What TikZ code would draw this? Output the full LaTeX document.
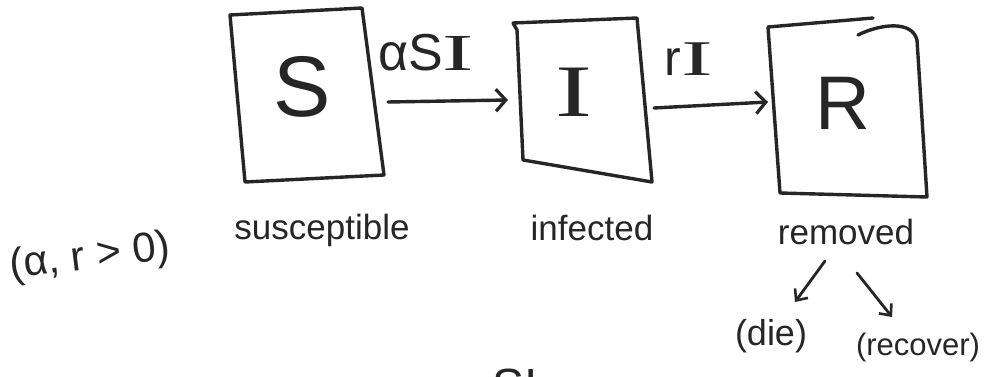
\documentclass[tikz,border=0pt]{standalone}
\usepackage{fontspec}
\setmainfont{Liberation Sans}
\newfontfamily\barfont{Liberation Serif}
\usetikzlibrary{arrows.meta}
\definecolor{ink}{HTML}{262626}
% a wide capital I with cross bars
\newcommand{\barI}[1]{{\barfont\scalebox{#1}[1]{I}}}
\tikzset{
  pen/.style={draw=ink, line width=3.4pt, line join=round, line cap=round},
  flow/.style={pen, -{Straight Barb[length=10pt,width=22pt,line width=3.2pt]}},
  small flow/.style={pen, line width=2.8pt, -{Straight Barb[length=9pt,width=16pt,line width=2.6pt]}},
  letter/.style={inner sep=0pt, text=ink},
  caption/.style={inner sep=0pt, text=ink, font=\fontsize{35}{38}\selectfont},
  note/.style={inner sep=0pt, text=ink, font=\fontsize{33}{36}\selectfont}
}
\begin{document}
\begin{tikzpicture}[x=1pt, y=-1pt]
\useasboundingbox[fill=white] (0,0) rectangle (984,377);

% compartment boxes, drawn as slightly uneven quadrilaterals
\draw[pen] (230,15) -- (362,8) -- (384,175) -- (245,182) -- cycle;
\draw[pen] (517,30) -- (513,23) -- (637,18) -- (652,182) -- (523,160) -- cycle;
\draw[pen] (873,18) -- (768,27) -- (780,193) -- (927,197) -- (917,40);
\draw[pen] (858,35) .. controls (880,24) and (912,20) .. (917,40);

% box letters
\node[letter, font=\fontsize{86}{86}\selectfont] (S) at (302,87) {S};
\node[letter, font=\fontsize{74}{74}\selectfont] (I) at (574,92) {\barI{1.5}};
\node[letter, font=\fontsize{76}{76}\selectfont] (R) at (843,103) {R};

% anchors for the transfer arrows
\coordinate (s-out) at (388,102);
\coordinate (i-in)  at (508,100);
\coordinate (i-out) at (654,108);
\coordinate (r-in)  at (768,102);

\draw[flow] (s-out) -- (i-in);
\draw[flow] (i-out) -- (r-in);

% rate labels
\node[letter, font=\fontsize{52}{52}\selectfont] (rate1) at (426,53) {αS\barI{1.8}};
\node[letter, font=\fontsize{50}{50}\selectfont] (rate2) at (689,59) {r\barI{1.9}};

% compartment names
\node[caption] (sus) at (322,230) {susceptible};
\node[caption] (inf) at (592,228) {infected};
\node[caption] (rem) at (846,232) {removed};

% parameter condition
\node[note, rotate=7, font=\fontsize{42}{46}\selectfont] (cond) at (90,258) {(α, r > 0)};

% outcomes of removal
\coordinate (die-from) at (825,261);
\coordinate (die-to)   at (795,302);
\coordinate (rec-from) at (857,273);
\coordinate (rec-to)   at (892,317);
\draw[small flow] (die-from) -- (die-to);
\draw[small flow] (rec-from) -- (rec-to);
\node[note, font=\fontsize{36}{38}\selectfont] (die) at (771,336) {(die)};
\node[note, font=\fontsize{31}{34}\selectfont] (rec) at (918,347) {(recover)};

% text running off the lower edge
\begin{scope}
\clip (0,0) rectangle (984,377);
\node[letter, anchor=north, font=\fontsize{48}{48}\selectfont] (cut) at (515,369) {SI};
\end{scope}
\end{tikzpicture}
\end{document}
